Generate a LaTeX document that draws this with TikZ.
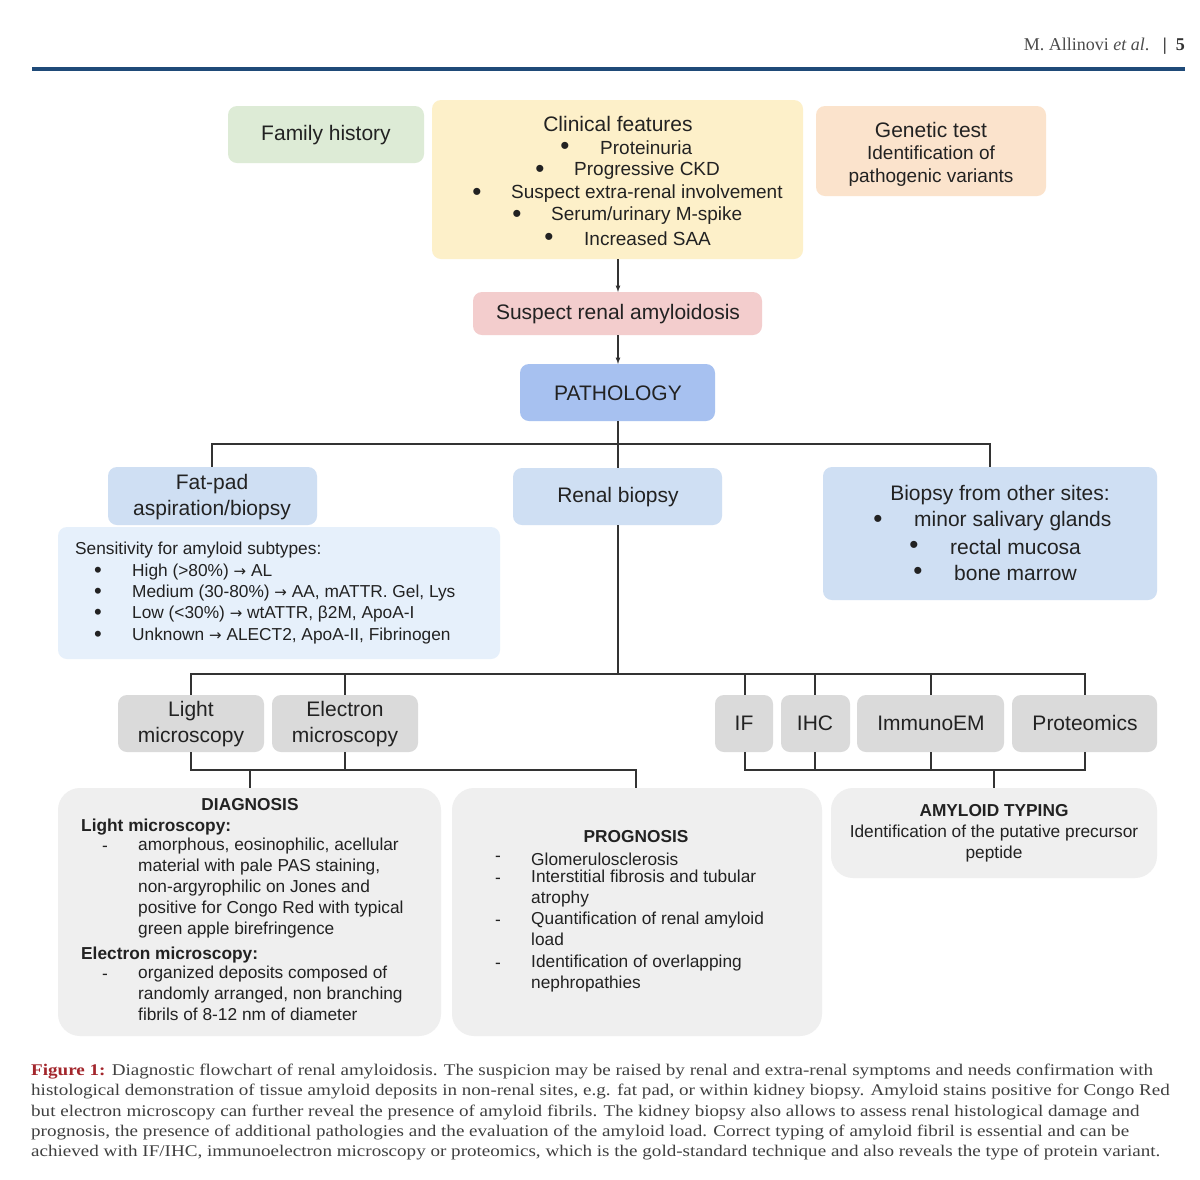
\documentclass[tikz,border=0pt]{standalone}
\usepackage{fontspec}
\setmainfont{Liberation Sans}
\newfontfamily\capfont[FakeStretch=1.17]{Liberation Serif}
\newfontfamily\hdfont{Liberation Serif}
\newfontfamily\djf{DejaVu Sans}
\newcommand{\ar}{{\djf\fontsize{15}{15}\selectfont →}}
\definecolor{famg}{HTML}{DDEBD6}
\definecolor{clin}{HTML}{FDF0C9}
\definecolor{gene}{HTML}{FBE3CC}
\definecolor{susp}{HTML}{F3CDCD}
\definecolor{path}{HTML}{A7C1F0}
\definecolor{lblue}{HTML}{CFDFF3}
\definecolor{sens}{HTML}{E6F0FB}
\definecolor{gbox}{HTML}{DADADA}
\definecolor{bbox}{HTML}{EFEFEF}
\definecolor{txt}{HTML}{222222}
\definecolor{hdr}{HTML}{1F4A78}
\definecolor{capred}{HTML}{A3262C}
\begin{document}
\begin{tikzpicture}[x=1pt,y=-1pt,
 box/.style={rounded corners=9pt},
 big/.style={font=\fontsize{21}{25}\selectfont,text=txt,inner sep=0},
 bul/.style={font=\fontsize{26}{26}\selectfont,text=txt,inner sep=0},
 sm/.style={font=\fontsize{17.3}{21}\selectfont,text=txt,inner sep=0},
 smb/.style={sm,font=\bfseries\fontsize{17.3}{21}\selectfont},
 ln/.style={line width=1.2pt,draw=black!80}]
\useasboundingbox (0,0) rectangle (1200,1179);
\fill[white] (0,0) rectangle (1200,1179);
% header
\node[anchor=east,inner sep=0,font=\hdfont\fontsize{18}{20}\selectfont,text=black!70] (hd) at (1185,46) {M. Allinovi \textit{et al}.\ \ \ \textbf{\textcolor{black!80}{|\ \ 5}}};
\draw[hdr,line width=4pt] (32,69) -- (1185,69);
% top boxes
\fill[famg,box] (228,106) rectangle (424,163);
\node[big] (fam) at (326,135) {Family history};
\fill[clin,box] (432,100) rectangle (803,259);
\node[big] (clinT) at (618,124) {Clinical features};
\foreach \b/\t/\y/\s in {565/600/148/{Proteinuria},540/574/171/{Progressive CKD},477/511/194/{Suspect extra-renal involvement},517/551/216/{Serum/urinary M-spike},549/584/239/{Increased SAA}}{
 \node[bul] at (\b,\y) {•};
 \node[big,font=\fontsize{19}{20}\selectfont,anchor=west] at (\t,\y) {\s};}
\fill[gene,box] (816,106) rectangle (1046,196);
\node[big] (gen) at (931,130) {Genetic test};
\node[big,font=\fontsize{19}{23}\selectfont,align=center] (gen2) at (931,166) {Identification of\\pathogenic variants};
\fill[susp,box] (473,292) rectangle (762,335);
\node[big] (sus) at (618,314) {Suspect renal amyloidosis};
\fill[path,box] (520,364) rectangle (715,421);
\node[big] (pat) at (618,393) {PATHOLOGY};
\draw[ln,-latex] (618,259) -- (618,292);
\draw[ln,-latex] (618,335) -- (618,364);
% tree level 1
\draw[ln] (618,421) -- (618,468);
\draw[ln] (212,467) -- (212,444) -- (990,444) -- (990,467);
\fill[lblue,box] (108,467) rectangle (317,525);
\node[big,align=center,font=\fontsize{21}{26}\selectfont] (fat) at (212,497) {Fat-pad\\aspiration/biopsy};
\fill[lblue,box] (513,468) rectangle (722,525);
\node[big] (ren) at (618,497) {Renal biopsy};
\fill[lblue,box] (823,467) rectangle (1157,600);
\node[big] (oth) at (1000,495) {Biopsy from other sites:};
\foreach \b/\t/\y/\s in {878/914/521/{minor salivary glands},914/950/547/{rectal mucosa},918/954/573/{bone marrow}}{
 \node[bul] at (\b,\y) {•};
 \node[big,anchor=west] at (\t,\y) {\s};}
\fill[sens,box] (58,527) rectangle (500,659);
\node[sm,anchor=west] (sen) at (75,550) {Sensitivity for amyloid subtypes:};
\foreach \y/\s in {572/{High (>80\%) \ar{} AL},593/{Medium (30-80\%) \ar{} AA, mATTR. Gel, Lys},614/{Low (<30\%) \ar{} wtATTR, β2M, ApoA-I},636/{Unknown \ar{} ALECT2, ApoA-II, Fibrinogen}}{
 \node[bul,font=\fontsize{22}{22}\selectfont] at (98,\y) {•};
 \node[sm,anchor=west] at (132,\y) {\s};}
% tree level 2
\draw[ln] (618,525) -- (618,674);
\draw[ln] (191,695) -- (191,674) -- (1085,674) -- (1085,695);
\foreach \x in {345,745,815,931}{\draw[ln] (\x,674) -- (\x,695);}
\fill[gbox,box] (118,695) rectangle (264,752);
\node[big,align=center,font=\fontsize{21}{26}\selectfont] (lm) at (191,724) {Light\\microscopy};
\fill[gbox,box] (272,695) rectangle (418,752);
\node[big,align=center,font=\fontsize{21}{26}\selectfont] (em) at (345,724) {Electron\\microscopy};
\fill[gbox,box] (715,695) rectangle (773,752); \node[big] (if) at (744,723) {IF};
\fill[gbox,box] (781,695) rectangle (850,752); \node[big] (ihc) at (815,723) {IHC};
\fill[gbox,box] (857,695) rectangle (1004,752); \node[big] (iem) at (931,723) {ImmunoEM};
\fill[gbox,box] (1012,695) rectangle (1157,752); \node[big] (pro) at (1085,723) {Proteomics};
\draw[ln] (191,752) -- (191,770) -- (636,770) -- (636,788);
\draw[ln] (345,752) -- (345,770);
\draw[ln] (250,770) -- (250,788);
\draw[ln] (745,752) -- (745,770) -- (1085,770) -- (1085,752);
\foreach \x in {815,931}{\draw[ln] (\x,752) -- (\x,770);}
\draw[ln] (994,770) -- (994,788);
% bottom boxes
\fill[bbox,rounded corners=22pt] (58,788) rectangle (441,1036);
\node[smb] (dia) at (250,805) {DIAGNOSIS};
\node[smb,anchor=west] at (81,827) {Light microscopy:};
\node[sm] at (105,849) {-};
\node[sm,anchor=north west,align=left] at (138,838) {amorphous, eosinophilic, acellular\\material with pale PAS staining,\\non-argyrophilic on Jones and\\positive for Congo Red with typical\\green apple birefringence};
\node[smb,anchor=west] at (81,955) {Electron microscopy:};
\node[sm] at (105,977) {-};
\node[sm,anchor=north west,align=left] at (138,966) {organized deposits composed of\\randomly arranged, non branching\\fibrils of 8-12 nm of diameter};
\fill[bbox,rounded corners=22pt] (452,788) rectangle (822,1036);
\node[smb] (prg) at (636,837) {PROGNOSIS};
\foreach \y in {859,881,923,966}{\node[sm] at (498,\y) {-};}
\node[sm,anchor=west] at (531,859) {Glomerulosclerosis};
\node[sm,anchor=north west,align=left] at (531,870) {Interstitial fibrosis and tubular\\atrophy};
\node[sm,anchor=north west,align=left] at (531,912) {Quantification of renal amyloid\\load};
\node[sm,anchor=north west,align=left] at (531,955) {Identification of overlapping\\nephropathies};
\fill[bbox,rounded corners=22pt] (831,788) rectangle (1157,878);
\node[smb] (typ) at (994,811) {AMYLOID TYPING};
\node[sm,align=center] at (994,844) {Identification of the putative precursor\\peptide};
% caption
\node[anchor=north west,inner sep=0,text=black!75,align=left,font=\capfont\fontsize{16.3}{20.3}\selectfont] (cap) at (31,1064) {%
\textcolor{capred}{\textbf{Figure 1:}} Diagnostic flowchart of renal amyloidosis. The suspicion may be raised by renal and extra-renal symptoms and needs confirmation with\\
histological demonstration of tissue amyloid deposits in non-renal sites, e.g. fat pad, or within kidney biopsy. Amyloid stains positive for Congo Red\\
but electron microscopy can further reveal the presence of amyloid fibrils. The kidney biopsy also allows to assess renal histological damage and\\
prognosis, the presence of additional pathologies and the evaluation of the amyloid load. Correct typing of amyloid fibril is essential and can be\\
achieved with IF/IHC, immunoelectron microscopy or proteomics, which is the gold-standard technique and also reveals the type of protein variant.};
\end{tikzpicture}
\end{document}
